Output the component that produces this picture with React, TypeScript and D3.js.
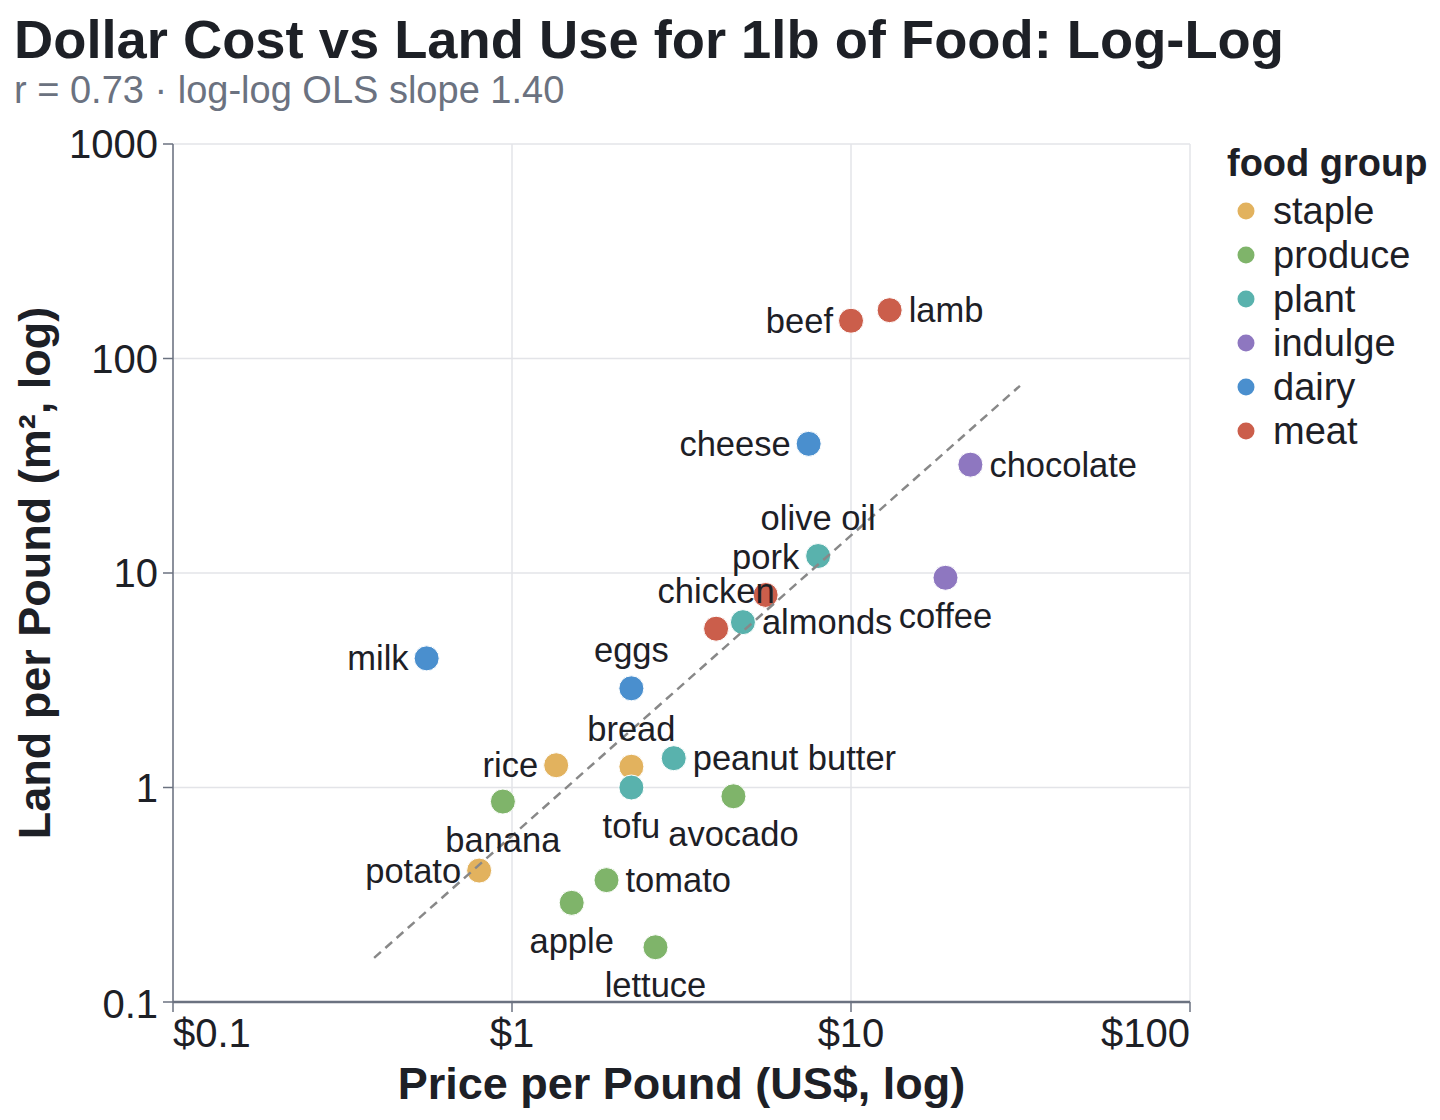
import React from 'react';
import * as d3 from 'd3';

// food items
const foods = [
  'beef', 'lamb', 'cheese', 'chocolate', 'olive oil', 'pork', 'chicken', 'almonds',
  'coffee', 'milk', 'eggs', 'bread', 'tofu', 'peanut butter', 'avocado', 'rice',
  'banana', 'potato', 'tomato', 'apple', 'lettuce'
];
const groups = [
  'meat', 'meat', 'dairy', 'indulge', 'plant', 'meat', 'meat', 'plant',
  'indulge', 'dairy', 'dairy', 'staple', 'plant', 'plant', 'produce', 'staple',
  'produce', 'staple', 'produce', 'produce', 'produce'
];
const prices = [
  10, 13, 7.5, 22.5, 8, 5.6, 4.0, 4.8,
  19, 0.56, 2.25, 2.25, 2.25, 3.0, 4.5, 1.35,
  0.94, 0.8, 1.9, 1.5, 2.65
];
const landUse = [
  150, 168, 40, 32, 12, 7.9, 5.5, 5.9,
  9.5, 4.0, 2.9, 1.25, 1.0, 1.37, 0.91, 1.27,
  0.86, 0.41, 0.37, 0.29, 0.18
];

const groupNames = ['staple', 'produce', 'plant', 'indulge', 'dairy', 'meat'];
const groupColors = ['#e2b25e', '#7fb46a', '#59b2ad', '#8e77c0', '#4a8fce', '#cb5e4b'];

const xTicks = [0.1, 1, 10, 100];
const yTicks = [0.1, 1, 10, 100, 1000];

// log-log OLS fit shown in the subtitle
const trendSlope = 1.4;
const trendIntercept = -0.225;

// where each label sits relative to its dot
const labelSide: Record<string, string> = {
  beef: 'left', lamb: 'right', cheese: 'left', chocolate: 'right',
  'olive oil': 'above', pork: 'above', chicken: 'above', almonds: 'right',
  coffee: 'below', milk: 'left', eggs: 'above', bread: 'above', tofu: 'below',
  'peanut butter': 'right', avocado: 'below', rice: 'left', banana: 'below',
  potato: 'left', tomato: 'right', apple: 'below', lettuce: 'below'
};

const FONT = '"Liberation Sans", Arial, Helvetica, sans-serif';
const INK = '#1d2026';
const GREY = '#6b7280';

export default function App() {
  const W = 1440, H = 1120;
  const left = 173, right = 1190, top = 144, bottom = 1002;

  const x = d3.scaleLog().domain([0.1, 100]).range([left, right]);
  const y = d3.scaleLog().domain([0.1, 1000]).range([bottom, top]);
  const color = d3.scaleOrdinal<string, string>().domain(groupNames).range(groupColors);

  const rows = foods.map((name, i) => ({
    name, group: groups[i], price: prices[i], land: landUse[i]
  }));

  const [xmin, xmax] = d3.extent(prices) as [number, number];
  const trendX = [xmin * 0.7, xmax * 1.4];
  const trendLine = d3.line<number>()
    .x((v) => x(v))
    .y((v) => y(Math.pow(10, trendIntercept + trendSlope * Math.log10(v))));

  const fmtY = (v: number) => (v < 1 ? String(v) : d3.format('d')(v));

  return (
    <svg width={W} height={H} style={{ position: 'absolute', left: 0, top: 0 }} fontFamily={FONT}>
      <rect width={W} height={H} fill="#fff" />
      <text x={14} y={58} fontSize={54.3} fontWeight="bold" fill={INK}>
        Dollar Cost vs Land Use for 1lb of Food: Log-Log
      </text>
      <text x={14} y={103} fontSize={38} fill={GREY}>
        r = 0.73 · log-log OLS slope 1.40
      </text>

      {/* grid */}
      <g stroke="#e3e4e8" strokeWidth={1.5}>
        {xTicks.map((t) => (
          <line key={'gx' + t} x1={x(t)} x2={x(t)} y1={top} y2={bottom} />
        ))}
        {yTicks.map((t) => (
          <line key={'gy' + t} x1={left} x2={right} y1={y(t)} y2={y(t)} />
        ))}
      </g>

      {/* axes */}
      <g stroke={GREY}>
        <line x1={left} x2={left} y1={top} y2={bottom} strokeWidth={1.5} />
        <line x1={left} x2={right} y1={bottom} y2={bottom} strokeWidth={2.5} />
        {yTicks.map((t) => (
          <line key={'ty' + t} x1={left - 10} x2={left} y1={y(t)} y2={y(t)} strokeWidth={1.5} />
        ))}
        {xTicks.map((t) => (
          <line key={'tx' + t} x1={x(t)} x2={x(t)} y1={bottom} y2={bottom + 10} strokeWidth={1.5} />
        ))}
      </g>
      <g fontSize={40} fill={INK}>
        {yTicks.map((t, i) => (
          <text key={'ly' + t} x={left - 15} y={y(t) + (i === 0 ? 16 : 14)} textAnchor="end">
            {fmtY(t)}
          </text>
        ))}
        {xTicks.map((t, i) => (
          <text
            key={'lx' + t}
            x={x(t)}
            y={1047}
            textAnchor={i === 0 ? 'start' : i === xTicks.length - 1 ? 'end' : 'middle'}
          >
            {'$' + fmtY(t)}
          </text>
        ))}
      </g>
      <text x={(left + right) / 2} y={1099} fontSize={45} fontWeight="bold" fill={INK} textAnchor="middle">
        Price per Pound (US$, log)
      </text>
      <text
        transform={`translate(50,${(top + bottom) / 2}) rotate(-90)`}
        fontSize={45}
        fontWeight="bold"
        fill={INK}
        textAnchor="middle"
      >
        Land per Pound (m², log)
      </text>

      {/* points */}
      <g>
        {rows.map((d) => (
          <circle
            key={d.name}
            cx={x(d.price)}
            cy={y(d.land)}
            r={12.5}
            fill={color(d.group)}
            stroke="#fff"
            strokeWidth={1}
          />
        ))}
      </g>

      <path
        d={trendLine(trendX) || ''}
        fill="none"
        stroke="#888"
        strokeWidth={2.5}
        strokeDasharray="9,6"
      />

      {/* point labels */}
      <g fontSize={34.5} fill={INK}>
        {rows.map((d) => {
          const cx = x(d.price), cy = y(d.land);
          const side = labelSide[d.name];
          let tx = cx, ty = cy + 12, anchor = 'middle';
          if (side === 'left') { tx = cx - 18; anchor = 'end'; }
          if (side === 'right') { tx = cx + 19; anchor = 'start'; }
          if (side === 'above') ty = cy - 26;
          if (side === 'below') ty = cy + 50;
          return (
            <text key={'t' + d.name} x={tx} y={ty} textAnchor={anchor}>
              {d.name}
            </text>
          );
        })}
      </g>

      {/* legend */}
      <g>
        <text x={1227} y={176} fontSize={38} fontWeight="bold" fill={INK}>food group</text>
        {groupNames.map((g, i) => (
          <g key={g} transform={`translate(1246,${211 + i * 44})`}>
            <circle r={8.5} fill={color(g)} />
            <text x={27} y={13} fontSize={38} fill={INK}>{g}</text>
          </g>
        ))}
      </g>
    </svg>
  );
}
